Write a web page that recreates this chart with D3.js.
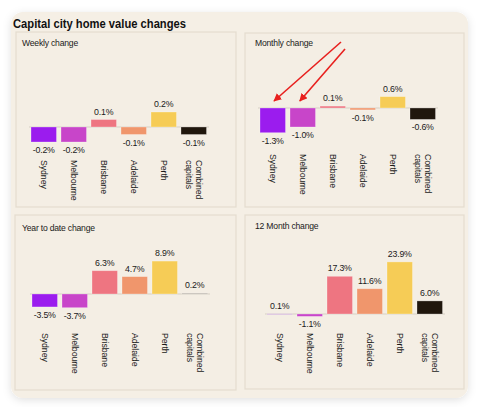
<!DOCTYPE html>
<html><head><meta charset="utf-8">
<script src="https://cdn.jsdelivr.net/npm/d3@7"></script>
<style>
html,body{margin:0;padding:0;background:#fff;}
svg{display:block;font-family:"Liberation Sans",Arial,Helvetica,sans-serif;}
</style></head>
<body><svg id="c" width="480" height="407"></svg>
<script>
const categories = ["Sydney","Melbourne","Brisbane","Adelaide","Perth","Combined capitals"];
const colors = ["#9b1cee","#c845c9","#ee7581","#f0966c","#f6cc56","#20170d"];
const panelTitles = ["Weekly change","Monthly change","Year to date change","12 Month change"];
const weekly  = [-0.2,-0.2,0.1,-0.1,0.2,-0.1];
const monthly = [-1.3,-1.0,0.1,-0.1,0.6,-0.6];
const ytd     = [-3.5,-3.7,6.3,4.7,8.9,0.2];
const twelve  = [0.1,-1.1,17.3,11.6,23.9,6.0];
const series = [weekly, monthly, ytd, twelve];
const chartTitle = "Capital city home value changes";

// layout (positions only)
const layout = [
  {x:16,  y:32,  w:220, h:175, tx:6,  ty:14, zero:127, unit:75,   bx:31,  ly:160},
  {x:245, y:33,  w:219, h:174, tx:10, ty:13, zero:108, unit:19,   bx:260, ly:154},
  {x:15,  y:215, w:221, h:175, tx:7,  ty:16, zero:294, unit:3.7,  bx:32,  ly:333},
  {x:245, y:215, w:219, h:174, tx:10, ty:14, zero:314, unit:2.18, bx:267, ly:333}
];

const svg = d3.select("#c");
const defs = svg.append("defs");
const f = defs.append("filter").attr("id","sh").attr("x","-10%").attr("y","-10%").attr("width","120%").attr("height","120%");
f.append("feDropShadow").attr("dx",0).attr("dy",2).attr("stdDeviation",4).attr("flood-color","#000").attr("flood-opacity",0.12);
defs.append("marker").attr("id","ah").attr("viewBox","0 0 10 10").attr("refX",9).attr("refY",5)
  .attr("markerWidth",5).attr("markerHeight",5).attr("orient","auto")
  .append("path").attr("d","M0,0L10,5L0,10Z").attr("fill","#e8201e");

svg.append("rect").attr("x",11).attr("y",12).attr("width",457).attr("height",386).attr("rx",12)
  .attr("fill","#f5efe5").attr("filter","url(#sh)");
svg.append("text").attr("x",13).attr("y",27.5).attr("font-size",12.5).attr("font-weight","bold")
  .attr("textLength",173).attr("lengthAdjust","spacingAndGlyphs")
  .attr("fill","#111").text(chartTitle);

const fmt = v => v.toFixed(1) + "%";

layout.forEach((L, pi) => {
  const data = series[pi].map((v,i) => ({cat:categories[i], v, color:colors[i]}));
  const g = svg.append("g");
  g.append("rect").attr("x",L.x).attr("y",L.y).attr("width",L.w).attr("height",L.h)
    .attr("fill","#f4eee4").attr("stroke","#e4dccf").attr("stroke-width",1.2);
  g.append("text").attr("x",L.x+L.tx).attr("y",L.y+L.ty).attr("font-size",8.6)
    .attr("letter-spacing","-0.2").attr("fill","#1a1a1a").text(panelTitles[pi]);

  const x = d3.scaleBand().domain(categories).range([L.bx-2.25, L.bx-2.25+180])
    .paddingInner(0.15).paddingOuter(0.075);
  const y = d3.scaleLinear().domain([0,1]).range([L.zero, L.zero - L.unit]);

  g.append("line").attr("x1",L.bx-2).attr("x2",L.bx+178).attr("y1",y(0)).attr("y2",y(0))
    .attr("stroke","#d6cfc3").attr("stroke-width",1);

  g.selectAll("rect.bar").data(data).join("rect").attr("class","bar")
    .attr("x", d => x(d.cat)).attr("width", x.bandwidth())
    .attr("y", d => Math.min(y(d.v), y(0)))
    .attr("height", d => Math.max(Math.abs(y(d.v) - y(0)), 0.8))
    .attr("fill", d => d.color)
    .attr("fill-opacity", d => Math.abs(y(d.v)-y(0)) < 1 ? 0.35 : 1)
    .attr("stroke","#ffffff").attr("stroke-opacity",0.35).attr("stroke-width",0.8);

  g.selectAll("text.val").data(data).join("text").attr("class","val")
    .attr("x", d => x(d.cat) + x.bandwidth()/2)
    .attr("y", d => d.v >= 0 ? y(d.v) - 5 : y(d.v) + 11)
    .attr("text-anchor","middle").attr("font-size",8.8).attr("letter-spacing","-0.2")
    .attr("fill","#1a1a1a").text(d => fmt(d.v));

  const lab = g.selectAll("text.cat").data(data).join("text").attr("class","cat")
    .attr("transform", d => `translate(${x(d.cat)+x.bandwidth()/2},${L.ly}) rotate(90)`)
    .attr("font-size",8.8).attr("letter-spacing","-0.1").attr("fill","#1a1a1a");
  lab.each(function(d){
    const words = d.cat.split(" ");
    const t = d3.select(this);
    const n = words.length;
    words.forEach((w,i) => {
      t.append("tspan").attr("x",0)
        .attr("dy", i===0 ? (0.35 - (n-1)*0.55) + "em" : "1.1em").text(w);
    });
  });
});

// red annotation arrows (monthly panel: Sydney and Melbourne)
const L1 = layout[1];
const xm = d3.scaleBand().domain(categories).range([L1.bx-2.25, L1.bx-2.25+180]).paddingInner(0.15).paddingOuter(0.075);
const ym = d3.scaleLinear().domain([0,1]).range([L1.zero, L1.zero - L1.unit]);
const arrows = [
  {from:[341,42], cat:"Sydney", dx:1.0},
  {from:[345,49], cat:"Melbourne", dx:0.7}
];
arrows.forEach(a => {
  svg.append("line").attr("x1",a.from[0]).attr("y1",a.from[1])
    .attr("x2", xm(a.cat) + xm.bandwidth()*0.55*a.dx).attr("y2", ym(0) - 7)
    .attr("stroke","#e8201e").attr("stroke-width",1.6).attr("marker-end","url(#ah)");
});
</script></body></html>
